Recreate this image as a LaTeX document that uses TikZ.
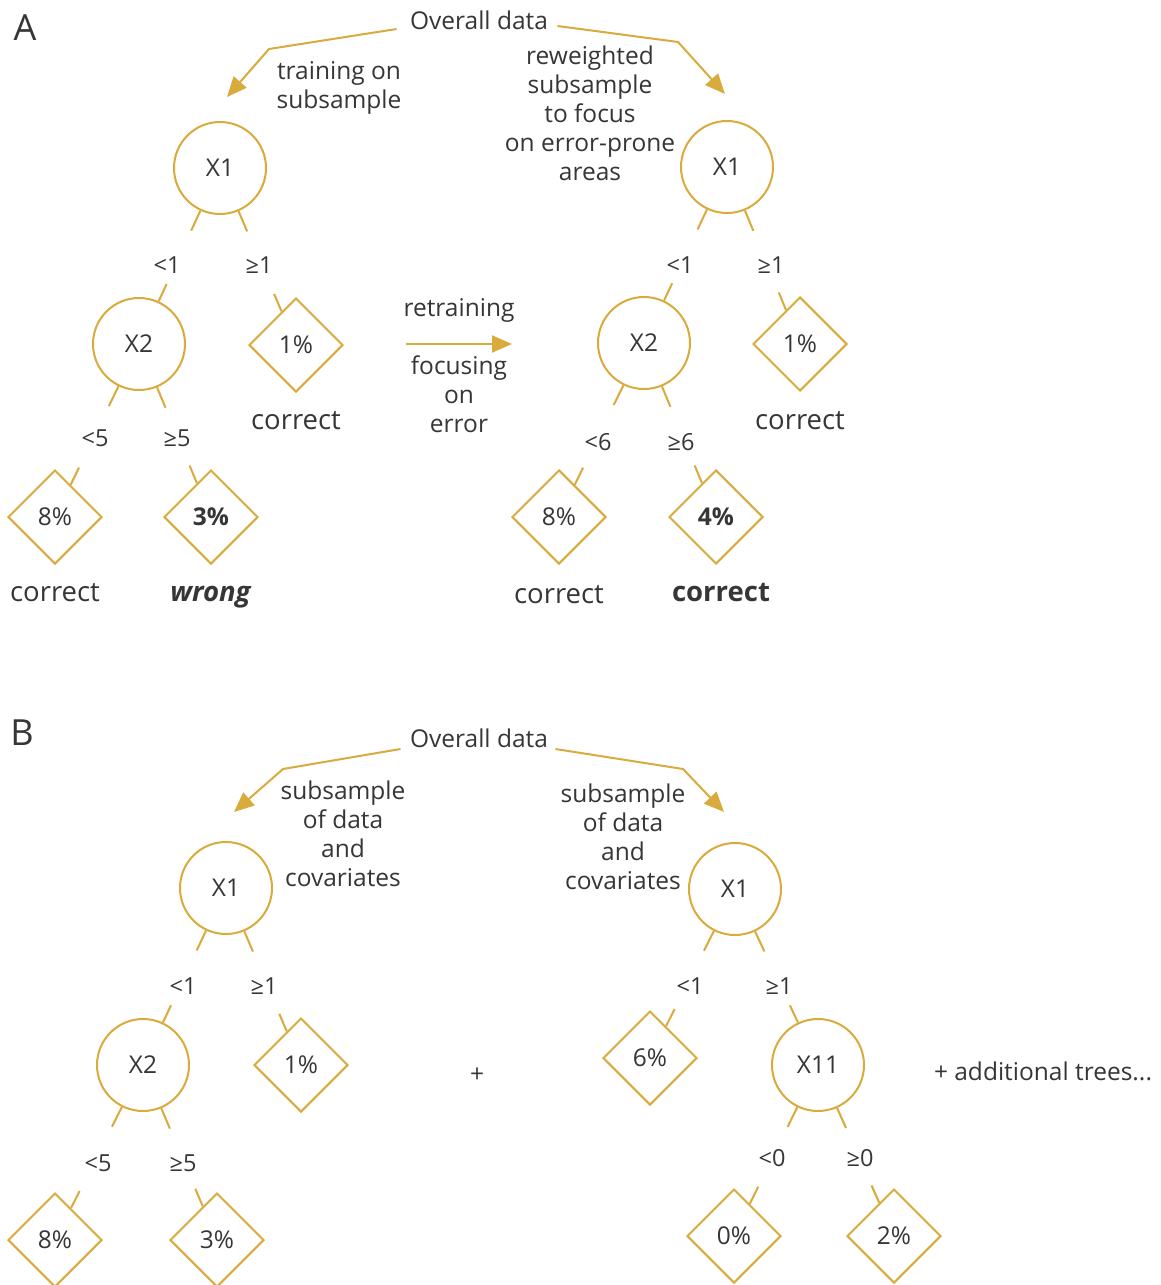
\documentclass[tikz,border=0pt]{standalone}
\usepackage{fontspec}
\setmainfont{Open Sans}
\usetikzlibrary{positioning, shapes.geometric, arrows.meta, calc}

\definecolor{gold}{HTML}{D9AA3C}
\definecolor{ink}{HTML}{363636}

\tikzset{
    split/.style={draw=gold, line width=2pt, circle, minimum size=92pt, inner sep=0pt, font=\fontsize{24.5}{29}\selectfont},
    leaf/.style={draw=gold, line width=2pt, diamond, minimum size=94pt, inner sep=0pt, font=\fontsize{24.5}{29}\selectfont},
    cut/.style={font=\fontsize{23.5}{27}\selectfont},
    verdict/.style={anchor=base, font=\fontsize{27.5}{32}\selectfont},
    note/.style={align=center, font=\fontsize{24.5}{29}\selectfont},
    panel/.style={font=\fontsize{36}{42}\selectfont},
    branch/.style={draw=gold, line width=2pt},
    flow/.style={draw=gold, line width=2pt, -{Triangle[length=20pt, width=17pt]}},
}

\begin{document}
\begin{tikzpicture}[x=1pt, y=-1pt, every node/.append style={text=ink}]
        \fill[white] (0,0) rectangle (1161,1285);
        \useasboundingbox (0,0) rectangle (1161,1285);

        % panel A
        \node[panel] (panel a) at (25,28) {A};
        \node[note] (over a) at (479,20) {Overall data};
        \node[note] (note a1) at (339,88) {training on\\subsample};
        \node[note] (note a2) at (590,113) {reweighted\\subsample\\to focus\\on error-prone\\areas};

        \node[split] (split a1) at (220,168) {X1};
        \node[split] (split a2) at (139,344) {X2};
        \node[leaf] (leaf a1) at (296,345) {1\%};
        \node[leaf] (leaf a2) at (55,517) {8\%};
        \node[leaf] (leaf a3) at (211,517) {\textbf{3\%}};

        \node[split] (split a3) at (727,167) {X1};
        \node[split] (split a4) at (644,343) {X2};
        \node[leaf] (leaf a4) at (800,344) {1\%};
        \node[leaf] (leaf a5) at (559,517) {8\%};
        \node[leaf] (leaf a6) at (716,517) {\textbf{4\%}};

        \node[cut] (cut a1) at (167,265) {<1};
        \node[cut] (cut a2) at (259,265) {≥1};
        \node[cut] (cut a3) at (95,438) {<5};
        \node[cut] (cut a4) at (177,438) {≥5};
        \node[cut] (cut a5) at (680,265) {<1};
        \node[cut] (cut a6) at (771,265) {≥1};
        \node[cut] (cut a7) at (598,442) {<6};
        \node[cut] (cut a8) at (681,442) {≥6};

        \node[verdict] (verdict a1) at (296,429) {correct};
        \node[verdict] (verdict a2) at (55,601) {correct};
        \node[verdict] (verdict a3) at (211,601) {\textbf{\textit{wrong}}};
        \node[verdict] (verdict a4) at (800,429) {correct};
        \node[verdict] (verdict a5) at (559,603) {correct};
        \node[verdict] (verdict a6) at (721,601) {\textbf{correct}};

        \node[note] (note a3) at (459,310) {retraining};
        \node[note] (note a4) at (459,394) {focusing\\on\\error};

        % panel B
        \node[panel] (panel b) at (22,733) {B};
        \node[note] (over b) at (479,738) {Overall data};
        \node[note] (note b1) at (343,834) {subsample\\of data\\and\\covariates};
        \node[note] (note b2) at (623,837) {subsample\\of data\\and\\covariates};

        \node[split] (split b1) at (226,888) {X1};
        \node[split] (split b2) at (143,1065) {X2};
        \node[leaf] (leaf b1) at (301,1065) {1\%};
        \node[leaf] (leaf b2) at (55,1240) {8\%};
        \node[leaf] (leaf b3) at (217,1240) {3\%};

        \node[split] (split b3) at (735,889) {X1};
        \node[leaf] (leaf b4) at (650,1058) {6\%};
        \node[split] (split b4) at (818,1065) {X11};
        \node[leaf] (leaf b5) at (734,1236) {0\%};
        \node[leaf] (leaf b6) at (894,1236) {2\%};

        \node[cut] (cut b1) at (183,986) {<1};
        \node[cut] (cut b2) at (264,986) {≥1};
        \node[cut] (cut b3) at (98,1163) {<5};
        \node[cut] (cut b4) at (183,1163) {≥5};
        \node[cut] (cut b5) at (690,986) {<1};
        \node[cut] (cut b6) at (779,986) {≥1};
        \node[cut] (cut b7) at (772,1158) {<0};
        \node[cut] (cut b8) at (860,1158) {≥0};

        \node[note] (plus b) at (477,1075) {+};
        \node[note] (more b) at (1043,1071) {+ additional trees...};

        % branches, only the ends are drawn
        \foreach \p/\c in {split a1/split a2,split a1/leaf a1,split a2/leaf a2,split a2/leaf a3,%
            split a3/split a4,split a3/leaf a4,split a4/leaf a5,split a4/leaf a6,%
            split b1/split b2,split b1/leaf b1,split b2/leaf b2,split b2/leaf b3,%
            split b3/leaf b4,split b3/split b4,split b4/leaf b5,split b4/leaf b6}
        {
            \path (\p) -- (\c) coordinate[pos=0] (from) coordinate[pos=1] (to);
            \draw[branch] (from) -- ($(from)!22pt!(to)$);
            \draw[branch] (to) -- ($(to)!19pt!(from)$);
        }

        % arrows from the data
        \coordinate (bend a1) at (269,49);
        \coordinate (tip a1) at (227,97);
        \coordinate (bend a2) at (678,42);
        \coordinate (tip a2) at (725,94);
        \draw[flow] ([xshift=-10pt, yshift=-9pt]over a.west) -- (bend a1) -- (tip a1);
        \draw[flow] ([xshift=6pt, yshift=-6pt]over a.east) -- (bend a2) -- (tip a2);

        \coordinate (start a3) at (406,344);
        \coordinate (tip a3) at (512,344);
        \draw[flow] (start a3) -- (tip a3);

        \coordinate (bend b1) at (283,769);
        \coordinate (tip b1) at (234,812);
        \coordinate (bend b2) at (683,769);
        \coordinate (tip b2) at (724,812);
        \draw[flow] ([xshift=-6pt, yshift=-11pt]over b.west) -- (bend b1) -- (tip b1);
        \draw[flow] ([xshift=4pt, yshift=-11pt]over b.east) -- (bend b2) -- (tip b2);
\end{tikzpicture}
\end{document}
